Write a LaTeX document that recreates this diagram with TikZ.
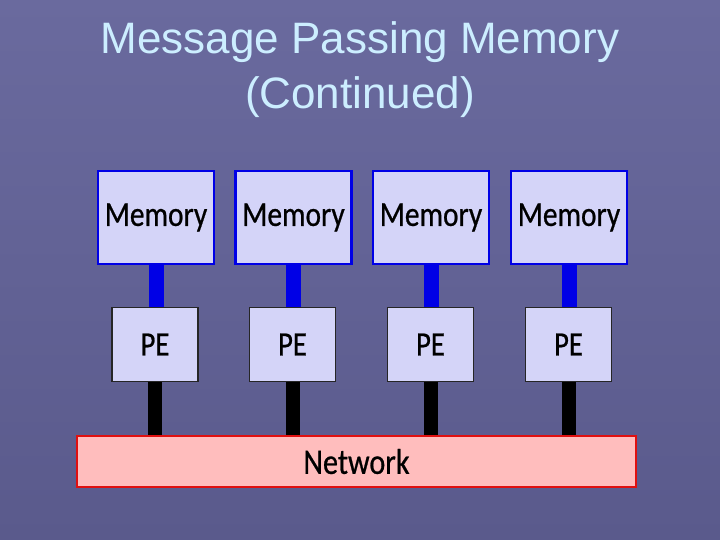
\documentclass[tikz,border=0pt]{standalone}
\usepackage{fontspec}
\usetikzlibrary{backgrounds}
\setmainfont{Liberation Sans}
\newfontfamily\boxfont[FakeStretch=0.84,FakeBold=0.6]{Carlito}
\definecolor{slidebg}{HTML}{5A5A8C}
\definecolor{slidetop}{HTML}{6A6A9E}
\definecolor{titlecol}{HTML}{CCEEFF}
\definecolor{boxfill}{HTML}{D4D4F8}
\definecolor{netfill}{HTML}{FFBDBD}
\definecolor{netline}{HTML}{E01010}
\definecolor{memline}{HTML}{0000E6}
\tikzset{
  mem/.style={draw=memline, line width=2.5pt, fill=boxfill, minimum width=116pt,
    minimum height=93pt, inner sep=0pt, font=\boxfont\fontsize{35}{36}\selectfont},
  pe/.style={draw=black!85, line width=1.8pt, fill=boxfill, minimum width=86pt,
    minimum height=74pt, inner sep=0pt, font=\boxfont\fontsize{34}{36}\selectfont},
  net/.style={draw=netline, line width=2.5pt, fill=netfill, minimum width=559pt,
    minimum height=51pt, inner sep=0pt, font=\boxfont\fontsize{36}{36}\selectfont},
  bus/.style={line width=15pt, memline},
  link/.style={line width=14pt, black}
}
\begin{document}
\begin{tikzpicture}[x=1pt,y=-1pt]
      \useasboundingbox (0,0) rectangle (720,540);
      \node[text=titlecol, align=center, font=\fontsize{44}{55}\selectfont] (title) at (360,70)
        {Message Passing Memory\\(Continued)};
      \draw
        (156,217.5) node[mem] (m1){Memory}
        (293.5,217.5) node[mem] (m2){Memory}
        (431,217.5) node[mem] (m3){Memory}
        (569,217.5) node[mem] (m4){Memory}
        (155,344.5) node[pe] (p1){PE}
        (292.5,344.5) node[pe] (p2){PE}
        (430.5,344.5) node[pe] (p3){PE}
        (568.5,344.5) node[pe] (p4){PE}
        (356.5,461.5) node[net] (net){Network};
      \begin{scope}[on background layer]
        \shade[top color=slidetop, bottom color=slidebg] (0,0) rectangle (720,540);
        \draw[bus] (m1.south) to (p1.north -| m1.south);
        \draw[bus] (m2.south) to (p2.north -| m2.south);
        \draw[bus] (m3.south) to (p3.north -| m3.south);
        \draw[bus] (m4.south) to (p4.north -| m4.south);
        \draw[link] (p1.south) to (p1.south |- net.north);
        \draw[link] (p2.south) to (p2.south |- net.north);
        \draw[link] (p3.south) to (p3.south |- net.north);
        \draw[link] (p4.south) to (p4.south |- net.north);
      \end{scope}
    \end{tikzpicture}
\end{document}
